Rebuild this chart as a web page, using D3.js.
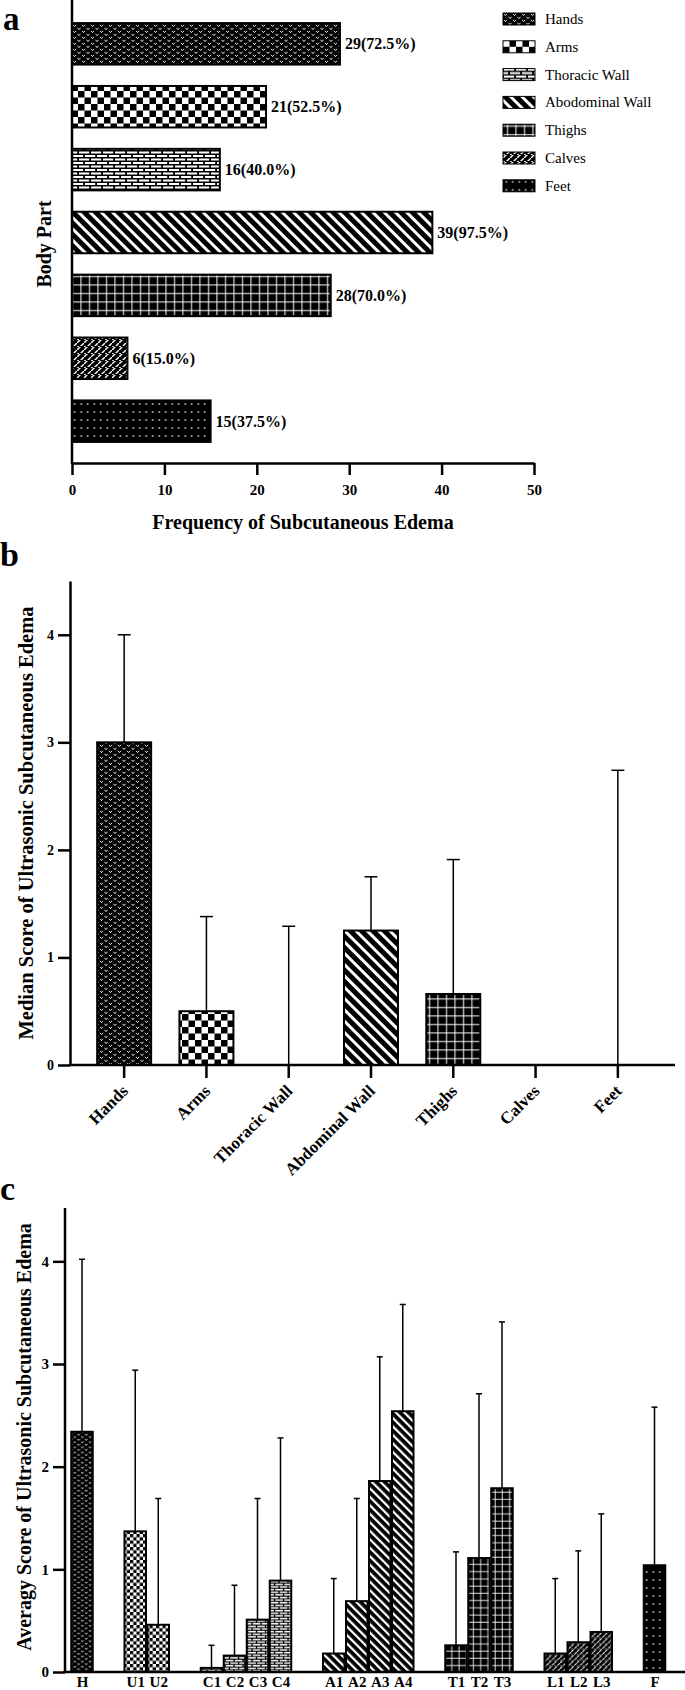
<!DOCTYPE html>
<html>
<head>
<meta charset="utf-8">
<script src="https://cdn.jsdelivr.net/npm/d3@7"></script>
<style>
  body { margin: 0; background: #fff; }
  svg { display: block; }
  text { font-family: "Liberation Serif", "Times New Roman", Times, "DejaVu Serif", serif; fill: #000; }
</style>
</head>
<body>
<svg id="fig" width="685" height="1690"></svg>
<script>
// ---- data ----
// panel a: frequency of subcutaneous edema per body part (n = 40)
const legendParts = ["Hands", "Arms", "Thoracic Wall", "Abodominal Wall", "Thighs", "Calves", "Feet"];
const freq = [29, 21, 16, 39, 28, 6, 15];
const nPatients = 40;
const freqTicks = [0, 10, 20, 30, 40, 50];

// panel b: median score + upper error
const parts = ["Hands", "Arms", "Thoracic Wall", "Abdominal Wall", "Thighs", "Calves", "Feet"];
const median = [3, 0.5, 0, 1.25, 0.66, 0, 0];
const medianErr = [4, 1.38, 1.29, 1.75, 1.91, null, 2.74];
const scoreTicks = [0, 1, 2, 3, 4];

// panel c: average score per sub-region
const subLabels = ["H", "U1", "U2", "C1", "C2", "C3", "C4", "A1", "A2", "A3", "A4", "T1", "T2", "T3", "L1", "L2", "L3", "F"];
const subGroup  = [0, 1, 1, 2, 2, 2, 2, 3, 3, 3, 3, 4, 4, 4, 5, 5, 5, 6];
const avgScore  = [2.34, 1.37, 0.46, 0.04, 0.16, 0.51, 0.89, 0.18, 0.69, 1.86, 2.54, 0.26, 1.11, 1.79, 0.18, 0.29, 0.39, 1.04];
const avgErr    = [4.02, 2.94, 1.69, 0.26, 0.845, 1.69, 2.28, 0.91, 1.69, 3.07, 3.58, 1.17, 2.71, 3.41, 0.91, 1.18, 1.54, 2.58];

const SERIF = '"Liberation Serif", "Times New Roman", Times, "DejaVu Serif", serif';
const SANS = '"Liberation Sans", Arial, "DejaVu Sans", sans-serif';

const svg = d3.select("#fig").attr("font-family", SERIF);
const defs = svg.append("defs");
const kinds = ["hands", "checker", "brick", "diag", "grid", "calves", "dots"];

// fill patterns, one per body part
function addPattern(kind, id, s) {
  let w = 8, h = 8, rot = 0;
  if (kind == "hands") { w = 9; h = 6; }
  if (kind == "checker") { w = 13; h = 13; }
  if (kind == "brick") { w = 12; h = 7; }
  if (kind == "diag") { w = 8; h = 8; rot = -45; }
  if (kind == "grid") { w = 8.5; h = 8.5; }
  if (kind == "calves") { w = 7; h = 7; }
  if (kind == "dots") { w = 6.5; h = 8; }
  const p = defs.append("pattern")
    .attr("id", id)
    .attr("patternUnits", "userSpaceOnUse")
    .attr("width", w).attr("height", h)
    .attr("patternTransform", (rot ? "rotate(" + rot + ") " : "") + "scale(" + s + ")");
  p.append("rect").attr("width", w).attr("height", h).attr("fill", kind == "checker" ? "#fff" : "#000");
  if (kind == "hands") {
    p.append("path").attr("d", "M1,0.8 L2.5,2.6 L4,0.8 M5.5,3.8 L7,5.6 L8.5,3.8")
      .attr("fill", "none").attr("stroke", "#fff").attr("stroke-width", 0.9);
  } else if (kind == "checker") {
    p.append("rect").attr("width", 6.5).attr("height", 6.5).attr("fill", "#000");
    p.append("rect").attr("x", 6.5).attr("y", 6.5).attr("width", 6.5).attr("height", 6.5).attr("fill", "#000");
  } else if (kind == "brick") {
    [[1, 1], [7, 4.5], [-5, 4.5]].forEach(b =>
      p.append("rect").attr("x", b[0]).attr("y", b[1]).attr("width", 10.2).attr("height", 2).attr("fill", "#fff"));
  } else if (kind == "diag") {
    p.append("rect").attr("width", 3).attr("height", h).attr("fill", "#fff");
  } else if (kind == "grid") {
    p.append("rect").attr("x", 4).attr("width", 1).attr("height", h).attr("fill", "#fff");
    p.append("rect").attr("y", 4).attr("width", w).attr("height", 1).attr("fill", "#fff");
  } else if (kind == "calves") {
    p.append("path").attr("d", "M-1,8 L8,-1").attr("stroke", "#fff").attr("stroke-width", 1.4);
    p.append("rect").attr("y", 3).attr("width", w).attr("height", 1).attr("fill", "#000");
    p.append("path").attr("d", "M0,3.5 L2,3.5").attr("stroke", "#fff").attr("stroke-width", 0.8);
  } else if (kind == "dots") {
    p.append("circle").attr("cx", 3.25).attr("cy", 4).attr("r", 0.85).attr("fill", "#fff");
  }
}
kinds.forEach(k => addPattern(k, "p-" + k, 1));
const cScale = { hands: 0.85, checker: 0.5, brick: 0.75, diag: 0.75, grid: 0.85, calves: 0.8, dots: 1 };
kinds.forEach(k => addPattern(k, "pc-" + k, cScale[k]));

function styleAxis(g, w) {
  g.selectAll("path, line").attr("stroke", "#000").attr("stroke-width", w);
  g.attr("font-family", null);
}

// ================= panel a =================
const xA = d3.scaleLinear().domain([0, 50]).range([72, 534]);
const yA = d3.scaleBand().domain(legendParts).range([2, 463]).paddingInner(0.34).paddingOuter(0.335);

svg.append("text").attr("x", 3).attr("y", 30).style("font-size", "33px").style("font-weight", "bold").text("a");

svg.selectAll(".barA")
  .data(freq).enter()
  .append("rect")
  .attr("class", "barA")
  .attr("x", xA(0))
  .attr("y", (d, i) => yA(legendParts[i]))
  .attr("width", d => xA(d) - xA(0))
  .attr("height", yA.bandwidth())
  .attr("fill", (d, i) => "url(#p-" + kinds[i] + ")")
  .attr("stroke", "#000").attr("stroke-width", 2);

svg.selectAll(".valA")
  .data(freq).enter()
  .append("text")
  .attr("class", "valA")
  .attr("x", d => xA(d) + 5)
  .attr("y", (d, i) => yA(legendParts[i]) + yA.bandwidth() / 2 + 5.5)
  .style("font-size", "16px").style("font-weight", "bold")
  .text(d => d + "(" + (d / nPatients * 100).toFixed(1) + "%)");

var gxA = svg.append("g")
  .attr("transform", "translate(0,463)")
  .call(d3.axisBottom(xA).tickValues(freqTicks).tickSize(12).tickSizeOuter(0).tickPadding(9));
styleAxis(gxA, 2.5);
gxA.selectAll("text").style("font-size", "15px").style("font-weight", "bold");
svg.append("line").attr("x1", 72).attr("x2", 72).attr("y1", 0).attr("y2", 464.2)
  .attr("stroke", "#000").attr("stroke-width", 2.5);

svg.append("text").attr("x", 303).attr("y", 529).attr("text-anchor", "middle")
  .style("font-size", "20px").style("font-weight", "bold").text("Frequency of Subcutaneous Edema");
svg.append("text").attr("transform", "translate(51,244) rotate(-90)").attr("text-anchor", "middle")
  .style("font-size", "20px").style("font-weight", "bold").text("Body Part");

// legend
var leg = svg.append("g").selectAll("g").data(legendParts).enter().append("g")
  .attr("transform", (d, i) => "translate(503," + (19 + i * 27.8) + ")");
leg.append("rect").attr("y", -6).attr("width", 32).attr("height", 12)
  .attr("fill", (d, i) => "url(#p-" + kinds[i] + ")").attr("stroke", "#000").attr("stroke-width", 1);
leg.append("text").attr("x", 42).attr("y", 5).style("font-size", "15px").text(d => d);

// ================= panel b =================
const yB = d3.scaleLinear().domain([0, 4.5]).range([1065, 581]);
const xB = d3.scaleBand().domain(parts).range([83, 659]).paddingInner(0.344).paddingOuter(0.172);

svg.append("text").attr("x", 0).attr("y", 566).style("font-size", "34px").style("font-weight", "bold").text("b");

parts.forEach((p, i) => {
  if (median[i] > 0) {
    svg.append("rect")
      .attr("x", xB(p))
      .attr("y", yB(median[i]))
      .attr("width", xB.bandwidth())
      .attr("height", yB(0) - yB(median[i]))
      .attr("fill", "url(#p-" + kinds[i] + ")")
      .attr("stroke", "#000").attr("stroke-width", 2);
  }
  if (medianErr[i] == null) return;
  var cx = xB(p) + xB.bandwidth() / 2;
  var g = svg.append("g").attr("stroke", "#000").attr("stroke-width", 1.5);
  g.append("line").attr("x1", cx).attr("x2", cx).attr("y1", yB(median[i])).attr("y2", yB(medianErr[i]));
  g.append("line").attr("x1", cx - 6.5).attr("x2", cx + 6.5).attr("y1", yB(medianErr[i])).attr("y2", yB(medianErr[i]));
});

var gyB = svg.append("g").attr("transform", "translate(70,0)")
  .call(d3.axisLeft(yB).tickValues(scoreTicks).tickFormat(d3.format("d")).tickSize(12).tickSizeOuter(0).tickPadding(4));
styleAxis(gyB, 2.5);
gyB.selectAll("text").attr("font-family", SANS).style("font-size", "14px").style("font-weight", "bold");

var gxB = svg.append("g").attr("transform", "translate(0,1065)")
  .call(d3.axisBottom(xB).tickSize(13).tickSizeOuter(0));
gxB.select(".domain").remove();
styleAxis(gxB, 2.5);
gxB.selectAll("text")
  .attr("y", 0).attr("dy", 0)
  .attr("text-anchor", "end")
  .attr("transform", "translate(5,27) rotate(-45)")
  .style("font-size", "17px").style("font-weight", "bold");
svg.append("line").attr("x1", 68.8).attr("x2", 675).attr("y1", 1065).attr("y2", 1065)
  .attr("stroke", "#000").attr("stroke-width", 2.5);

svg.append("text").attr("transform", "translate(33,823) rotate(-90)").attr("text-anchor", "middle")
  .style("font-size", "20.5px").style("font-weight", "bold").text("Median Score of Ultrasonic Subcutaneous Edema");

// ================= panel c =================
const gapSlots = 1.315; // extra space between body-part groups, in bar slots
const slotOf = i => i + subGroup[i] * gapSlots;
const xC = d3.scaleLinear().domain([0, slotOf(subLabels.length - 1)]).range([82, 654.5]);
const yC = d3.scaleLinear().domain([0, 4.5]).range([1672, 1210]);
const barW = 21.5;

svg.append("text").attr("x", 0).attr("y", 1200).style("font-size", "34px").style("font-weight", "bold").text("c");

subLabels.forEach((lab, i) => {
  var cx = xC(slotOf(i));
  var g = svg.append("g").attr("stroke", "#000").attr("stroke-width", 1.5);
  g.append("line").attr("x1", cx).attr("x2", cx).attr("y1", yC(avgScore[i])).attr("y2", yC(avgErr[i]));
  g.append("line").attr("x1", cx - 3).attr("x2", cx + 3).attr("y1", yC(avgErr[i])).attr("y2", yC(avgErr[i]));
});

svg.selectAll(".barC")
  .data(avgScore).enter()
  .append("rect")
  .attr("class", "barC")
  .attr("x", (d, i) => xC(slotOf(i)) - barW / 2)
  .attr("y", d => yC(d))
  .attr("width", barW)
  .attr("height", d => yC(0) - yC(d))
  .attr("fill", (d, i) => "url(#pc-" + kinds[subGroup[i]] + ")")
  .attr("stroke", "#000").attr("stroke-width", 2);

var gyC = svg.append("g").attr("transform", "translate(65,0)")
  .call(d3.axisLeft(yC).tickValues(scoreTicks).tickFormat(d3.format("d")).tickSize(12).tickSizeOuter(0).tickPadding(4));
styleAxis(gyC, 2.5);
gyC.selectAll("text").style("font-size", "15px").style("font-weight", "bold");
gyC.select(".domain").attr("d", "M0,1672V1208");

var gxC = svg.append("g").attr("transform", "translate(0,1672)")
  .call(d3.axisBottom(xC).tickValues(subLabels.map((d, i) => slotOf(i))).tickFormat((d, i) => subLabels[i]).tickSize(0).tickPadding(4));
gxC.select(".domain").remove();
styleAxis(gxC, 0);
gxC.selectAll("text").style("font-size", "15px").style("font-weight", "bold");
svg.append("line").attr("x1", 63.8).attr("x2", 685).attr("y1", 1672).attr("y2", 1672)
  .attr("stroke", "#000").attr("stroke-width", 2.5);

svg.append("text").attr("transform", "translate(31,1437) rotate(-90)").attr("text-anchor", "middle")
  .style("font-size", "20px").style("font-weight", "bold").text("Averagy Score of Ultrasonic Subcutaneous Edema");
</script>
</body>
</html>
